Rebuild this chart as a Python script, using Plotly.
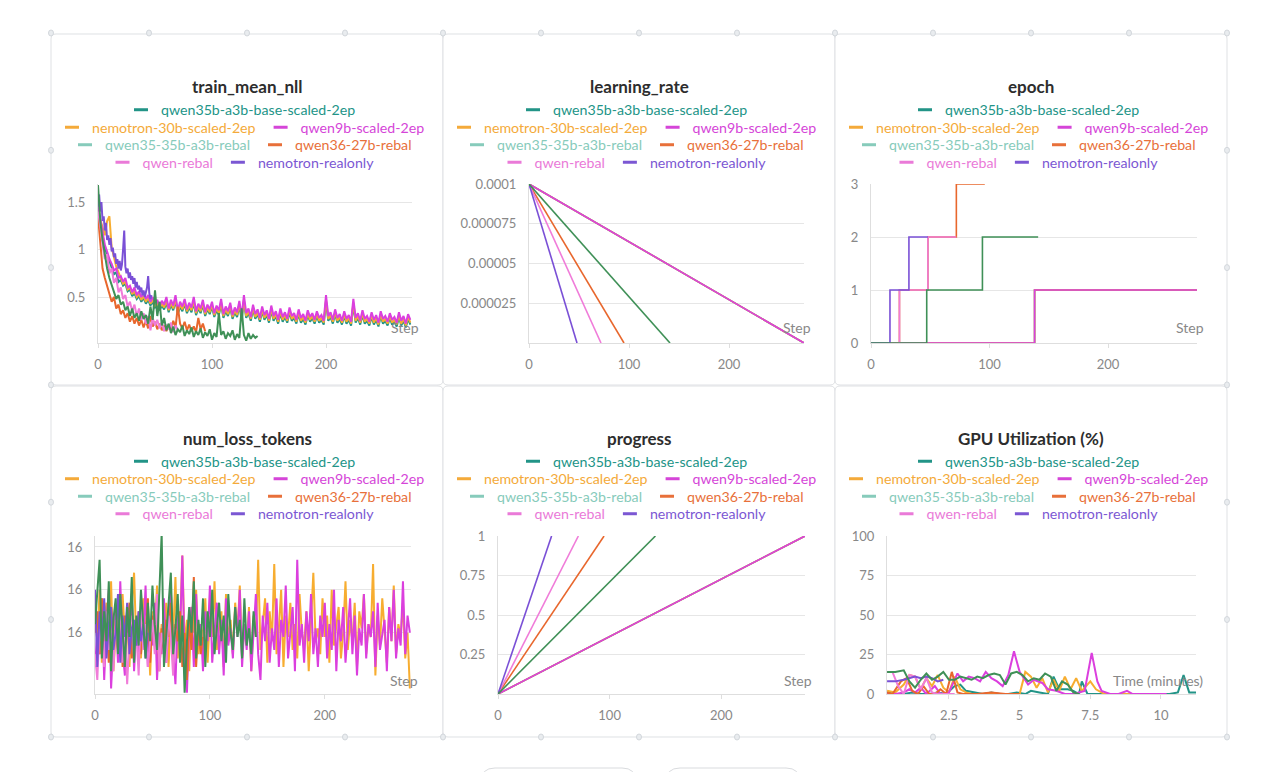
import plotly.graph_objects as go

W, H = 1280, 772
FONT = "Lato"

# ---------------------------------------------------------------- runs
RUNS = ["qwen35b-a3b-base-scaled-2ep", "nemotron-30b-scaled-2ep", "qwen9b-scaled-2ep",
        "qwen35-35b-a3b-rebal", "qwen36-27b-rebal", "qwen-rebal", "nemotron-realonly"]
LEGEND_COLORS = ["#229487", "#f4aa3a", "#d545d8", "#87cbbb", "#e8703a", "#ea7ad8", "#7b57d3"]
LINE_COLORS = ["#229487", "#f7ad30", "#db3fde", "#3f9057", "#e8672d", "#f07cd9", "#7a50d6"]
LEGEND_ROWS = [[0], [1, 2], [3, 4], [5, 6]]
DRAW_ORDER = [0, 1, 2, 4, 5, 6, 3]

# ---------------------------------------------------------------- train_mean_nll
NLL_QWEN35B = [1.38,1.28,1.15,1.02,0.95,0.88,0.80,0.74,0.76,0.66,0.68,
    0.62,0.64,0.56,0.58,0.51,0.54,0.48,0.51,0.45,0.49,
    0.43,0.47,0.41,0.45,0.39,0.42,0.36,0.41,0.37,0.44,
    0.34,0.42,0.36,0.46,0.32,0.40,0.35,0.43,0.33,0.39,
    0.34,0.44,0.31,0.38,0.33,0.42,0.30,0.37,0.32,0.40,
    0.29,0.36,0.31,0.42,0.28,0.35,0.30,0.39,0.27,0.34,
    0.29,0.41,0.26,0.45,0.28,0.33,0.25,0.37,0.27,0.32,
    0.24,0.35,0.26,0.31,0.23,0.36,0.25,0.30,0.22,0.33,
    0.24,0.29,0.23,0.34,0.25,0.28,0.22,0.32,0.23,0.27,
    0.21,0.31,0.24,0.28,0.22,0.30,0.23,0.26,0.21,0.45,
    0.25,0.29,0.22,0.32,0.23,0.27,0.21,0.30,0.22,0.26,
    0.20,0.42,0.23,0.28,0.21,0.31,0.22,0.25,0.20,0.29,
    0.21,0.26,0.19,0.30,0.22,0.25,0.20,0.28,0.21,0.24,
    0.19,0.29,0.20,0.25,0.18,0.27,0.21]
NLL_NEMOTRON30B = [1.40,1.32,1.25,1.15,1.30,1.35,1.02,0.92,0.82,0.76,0.70,
    0.64,0.66,0.58,0.60,0.53,0.56,0.50,0.53,0.47,0.51,
    0.45,0.49,0.43,0.47,0.41,0.44,0.38,0.43,0.39,0.46,
    0.36,0.44,0.38,0.48,0.34,0.42,0.37,0.45,0.35,0.41,
    0.36,0.46,0.33,0.40,0.35,0.44,0.32,0.39,0.34,0.42,
    0.31,0.38,0.33,0.44,0.30,0.37,0.32,0.41,0.29,0.36,
    0.31,0.43,0.28,0.47,0.30,0.35,0.27,0.39,0.29,0.34,
    0.26,0.37,0.28,0.33,0.25,0.38,0.27,0.32,0.24,0.35,
    0.26,0.31,0.25,0.36,0.27,0.30,0.24,0.34,0.25,0.29,
    0.23,0.33,0.26,0.30,0.24,0.32,0.25,0.28,0.23,0.47,
    0.27,0.31,0.24,0.34,0.25,0.29,0.23,0.32,0.24,0.28,
    0.22,0.44,0.25,0.30,0.23,0.33,0.24,0.27,0.22,0.31,
    0.23,0.28,0.21,0.32,0.24,0.27,0.22,0.30,0.23,0.26,
    0.21,0.31,0.22,0.27,0.20,0.29,0.23]
NLL_QWEN9B = [1.45,1.30,1.20,1.05,0.98,0.90,0.85,0.78,0.80,0.70,0.72,
    0.66,0.70,0.60,0.62,0.55,0.60,0.52,0.56,0.50,0.54,
    0.48,0.52,0.45,0.50,0.44,0.47,0.40,0.46,0.42,0.50,
    0.38,0.47,0.41,0.52,0.36,0.45,0.40,0.48,0.37,0.44,
    0.39,0.50,0.35,0.43,0.38,0.47,0.34,0.42,0.37,0.45,
    0.33,0.41,0.36,0.48,0.32,0.40,0.35,0.44,0.31,0.39,
    0.34,0.46,0.30,0.52,0.33,0.38,0.29,0.42,0.32,0.37,
    0.28,0.40,0.31,0.36,0.27,0.41,0.30,0.35,0.26,0.38,
    0.29,0.34,0.27,0.39,0.30,0.33,0.26,0.37,0.28,0.32,
    0.25,0.36,0.29,0.33,0.26,0.35,0.28,0.31,0.25,0.52,
    0.30,0.34,0.26,0.37,0.28,0.32,0.25,0.35,0.27,0.31,
    0.24,0.48,0.28,0.33,0.25,0.36,0.27,0.30,0.24,0.34,
    0.26,0.31,0.23,0.35,0.27,0.30,0.24,0.33,0.26,0.29,
    0.23,0.34,0.25,0.30,0.22,0.32,0.26]
NLL_QWEN35_REBAL = [1.68,1.30,1.10,0.95,0.80,0.70,0.62,0.55,0.48,0.52,0.42,
    0.45,0.36,0.40,0.30,0.38,0.28,0.33,0.25,0.35,0.27,
    0.31,0.22,0.40,0.26,0.57,0.30,0.45,0.20,0.28,0.15,
    0.22,0.12,0.19,0.10,0.16,0.13,0.20,0.09,0.15,0.11,
    0.18,0.08,0.14,0.10,0.17,0.07,0.13,0.09,0.16,0.05,
    0.12,0.08,0.33,0.10,0.14,0.06,0.12,0.09,0.15,0.05,
    0.11,0.07,0.38,0.10,0.04,0.12,0.06,0.10,0.07,0.09]
NLL_QWEN36 = [1.35,1.10,0.80,0.70,0.62,0.55,0.45,0.50,0.38,0.42,
    0.32,0.36,0.28,0.33,0.24,0.30,0.22,0.28,0.20,0.26,
    0.18,0.25,0.17,0.30,0.19,0.24,0.16,0.22,0.15,0.20,
    0.14,0.21,0.16,0.25,0.18,0.40,0.22,0.17,0.24,0.15,
    0.21,0.14,0.19,0.13,0.28,0.16,0.22,0.14]
NLL_QWEN_REBAL = [1.40,1.25,1.05,0.90,0.95,0.75,0.80,0.65,0.70,0.55,
    0.60,0.48,0.52,0.40,0.45,0.35,0.42,0.30,0.38,0.26,
    0.33,0.22,0.30,0.15,0.28,0.20,0.26,0.17,0.24,0.14,
    0.21,0.16,0.23,0.13,0.20,0.15]
NLL_NEMOTRON_REAL = [1.45,1.58,1.40,1.50,1.30,1.35,1.20,1.28,1.10,1.15,
    1.05,1.12,0.98,1.02,0.92,0.96,0.85,0.90,0.80,0.88,
    0.78,0.84,1.00,1.20,0.82,0.75,0.80,0.70,0.76,0.68,
    0.72,0.64,0.70,0.60,0.66,0.58,0.62,0.55,0.60,0.52,
    0.57,0.50,0.55,0.60,0.72,0.54,0.48,0.52]
NLL = [NLL_QWEN35B, NLL_NEMOTRON30B, NLL_QWEN9B, NLL_QWEN35_REBAL,
       NLL_QWEN36, NLL_QWEN_REBAL, NLL_NEMOTRON_REAL]
NLL_STRIDE = [2, 2, 2, 2, 2, 2, 1]

# ---------------------------------------------------------------- num_loss_tokens (thousands)
NLT_NEMOTRON30B = [16.15,16.08,16.20,16.03,16.12,16.17,16.06,16.22,16.01,16.10,16.14,
    16.05,16.19,16.09,16.13,16.02,16.16,16.24,16.07,16.11,16.04,
    16.18,16.08,16.13,16.00,16.15,16.10,16.21,16.05,16.12,16.06,
    16.17,16.02,16.14,16.09,16.23,16.04,16.11,16.28,16.07,16.13,
    16.01,16.16,16.10,16.20,16.05,16.12,16.08,16.18,16.03,16.14,
    16.09,16.22,16.06,16.11,16.15,16.02,16.19,16.08,16.13,16.05,
    16.17,16.10,16.21,16.04,16.12,16.07,16.16,16.01,16.14,16.09,
    16.27,16.06,16.12,16.18,16.03,16.15,16.08,16.26,16.05,16.11,
    16.20,16.02,16.14,16.09,16.17,16.06,16.12,16.04,16.19,16.10,
    16.07,16.15,16.01,16.13,16.24,16.08,16.11,16.05,16.18,16.09,
    16.14,16.03,16.20,16.07,16.12,16.16,16.04,16.10,16.22,16.06,
    16.13,16.08,16.17,16.02,16.15,16.11,16.19,16.05,16.12,16.09,
    16.26,16.00,16.14,16.07,16.18,16.10,16.03,16.16,16.08,16.21,
    16.05,16.12,16.09,16.17,16.04,16.10,15.97]
NLT_QWEN9B = [16.02,16.10,16.05,16.18,15.99,16.12,16.20,15.97,16.08,16.15,16.03,
    16.22,16.06,16.00,16.14,16.09,16.19,16.01,16.11,16.04,16.16,
    16.08,16.21,16.02,16.13,16.07,16.17,15.99,16.10,16.05,16.18,
    16.03,16.12,16.20,16.06,15.98,16.14,16.09,16.28,16.04,15.96,
    16.11,16.16,16.02,16.19,16.07,16.12,16.01,16.15,16.08,16.21,
    16.03,16.10,16.17,16.05,16.13,16.00,16.18,16.07,16.11,16.04,
    16.16,16.09,16.20,16.02,16.12,16.06,16.15,16.01,16.10,16.19,
    16.05,15.99,16.14,16.08,16.17,16.03,16.11,16.06,16.18,16.02,
    16.13,16.09,16.21,16.04,16.10,16.16,16.01,16.27,16.07,16.12,
    16.03,16.15,16.08,16.19,16.05,16.11,16.02,16.14,16.09,16.17,
    16.04,16.12,16.06,16.20,16.01,16.13,16.08,16.16,16.03,16.10,
    16.18,16.05,16.14,16.00,16.11,16.07,16.19,16.04,16.12,16.09,
    16.15,16.02,16.17,16.06,16.10,16.13,16.01,16.16,16.08,16.20,
    16.04,16.11,16.07,16.22,16.05,16.14,16.10]
NLT_QWEN35_REBAL = [16.12,16.20,16.27,16.04,16.15,16.08,16.22,16.01,16.13,16.18,16.05,
    16.19,16.10,16.02,16.16,16.09,16.23,16.03,16.14,16.07,16.20,
    16.11,16.04,16.17,16.08,16.21,16.12,16.06,16.18,16.33,16.02,
    16.09,16.15,16.24,16.05,16.11,16.19,16.03,16.14,15.96,16.08,
    16.16,16.10,16.22,16.04,16.13,16.07,16.18,16.02,16.15,16.09,
    16.20,16.05,16.12,16.17,16.08,16.14,16.03,16.19,16.10,16.06,
    16.16,16.09,16.13,16.04,16.18,16.07,16.11,16.05,16.15,16.09]
NLT_QWEN36 = [16.10,16.15,16.05,16.18,16.08,16.12,16.03,16.16,16.09,16.13,
    16.06,16.19,16.02,16.14,16.10,16.17,16.04,16.11,16.08,16.15,
    16.05,16.12,16.09,16.18,16.03,16.14,16.07,16.16,16.01,16.11,
    16.06,16.13,16.09,16.17,16.04,16.12,16.08,16.15,16.02,16.10,
    15.99,16.14,16.06,16.23,16.02,16.12,16.05,16.09]
NLT_QWEN_REBAL = [16.05,15.99,16.12,16.08,16.02,16.15,16.06,16.10,16.01,16.13,
    16.07,16.18,16.03,16.11,15.98,16.09,16.14,16.04,16.10,16.00,
    16.16,16.06,16.12,16.02,16.08,16.13,16.05,16.19,16.01,16.10,
    16.07,16.03,16.14,16.09,16.00,16.11]
NLT_NEMOTRON_REAL = [16.20,16.02,16.15,16.08,16.18,16.04,16.12,16.16,16.06,16.10,
    16.19,16.03,16.14,16.09,16.17,16.05,16.11,16.13,16.07,16.15,
    16.08,16.12,16.04,16.10]
NLT = [None, NLT_NEMOTRON30B, NLT_QWEN9B, NLT_QWEN35_REBAL,
       NLT_QWEN36, NLT_QWEN_REBAL, NLT_NEMOTRON_REAL]
NLT_TICKS = [16.1, 16.2, 16.3]
NLT_TICKTEXT = ["16", "16", "16"]

# ---------------------------------------------------------------- learning_rate / progress
LR_START = 0.0001
LR_FINAL = 0.0
RUN_END_STEP = [275, 275, 275, 141, 95, 72, 48]
PROGRESS_START = 0.0
PROGRESS_FINAL = 1.0

# ---------------------------------------------------------------- epoch (change points)
EPOCH_STEPS = [[0, 138, 275], [0, 138, 275], [0, 138, 275], [0, 47, 94, 141],
               [0, 24, 48, 72, 96], [0, 24, 48, 72], [0, 16, 32, 48]]
EPOCH_VALUES = [[0, 1, 1], [0, 1, 1], [0, 1, 1], [0, 1, 2, 2],
                [0, 1, 2, 3, 3], [0, 1, 2, 2], [0, 1, 2, 2]]

# ---------------------------------------------------------------- GPU utilization
GPU_MIN = [
    [0.31,0.6,0.9,1.2,1.5,1.8,2.1,2.4,2.7,2.9,3.1,3.4,3.7,4.0,4.3,4.6,4.9,5.2,5.4,5.7,
     6.0,6.2,6.4,6.7,6.9,7.1,7.2,7.4,7.7,8.0,8.5,9.0,9.5,10.0,10.3,10.6,10.8,11.0,11.24],
    [0.31,0.6,0.9,1.1,1.3,1.5,1.7,1.9,2.1,2.3,2.5,2.7,2.9,3.1,3.3,3.6,4.0,4.5,5.0,5.2,
     5.4,5.6,5.8,6.0,6.2,6.4,6.6,6.8,7.0,7.2,7.5,7.7,8.0,8.5,9.0,9.5,10.0],
    [0.31,0.6,0.9,1.1,1.3,1.5,1.7,2.0,2.2,2.5,2.8,3.0,3.2,3.4,3.6,3.8,4.0,4.2,4.4,4.6,
     4.8,5.0,5.3,5.5,5.8,6.0,6.3,6.6,6.9,7.1,7.3,7.55,7.75,7.9,8.2,8.5,8.8,9.0,9.5,10.0,10.2],
    [0.31,0.6,0.9,1.1,1.3,1.5,1.7,1.9,2.1,2.3,2.5,2.7,2.9,3.1,3.3,3.5,3.7,3.9,4.1,4.3,
     4.5,4.7,4.9,5.1,5.3,5.5,5.7,5.9,6.1,6.3,6.5,6.7,6.9,7.1],
    [0.31,0.5,0.8,1.0,1.2,1.4,1.6,1.8,2.0,2.2,2.4,2.6,2.8,3.0,3.5,4.0,4.5,5.0],
    [0.31,0.5,0.7,0.9,1.1,1.3,1.5,1.7,1.9,2.1,2.4,2.7],
    [0.31,0.6,0.9,1.1,1.3,1.5,1.7,1.9,2.1,2.3],
]
GPU_UTIL = [
    [1,0,0,1,0,0,1,0,5,6,2,1,0,1,0,0,1,0,2,1,0,11,3,3,2,0,8,0,0,0,0,0,0,0,0,1,12,1,1],
    [2,1,6,12,11,3,10,5,12,4,1,11,3,1,0,0,0,0,0,14,11,4,10,1,9,2,11,3,10,2,8,3,0,0,0,0,0],
    [0,0,1,3,1,4,0,5,0,1,13,8,11,10,8,14,10,8,5,12,27,14,6,9,7,3,2,0,0,1,2,26,8,2,0,0,2,0,0,0,0],
    [14,14,15,8,4,9,13,9,11,14,9,9,11,10,9,11,10,12,13,12,6,13,14,12,8,10,9,13,11,2,8,6,1,0],
    [1,0,8,10,2,0,5,0,0,3,0,14,1,0,0,1,0,0],
    [14,14,5,0,12,11,3,10,1,0,0,0],
    [8,8,9,10,11,10,11,10,8,9],
]

# ---------------------------------------------------------------- panel layout (pixels)
CARDS = [(51, 34, 443, 385), (443, 34, 835, 385), (835, 34, 1227, 385),
         (51, 386, 443, 737), (443, 386, 835, 737), (835, 386, 1227, 737)]
TITLES = ["train_mean_nll", "learning_rate", "epoch", "num_loss_tokens", "progress",
          "GPU Utilization (%)"]
PLOT_X = [(98, 411.5), (529, 804), (871, 1197), (95, 411), (498, 805), (887, 1196)]
PLOT_Y = [(184, 343)] * 3 + [(536, 694)] * 3
X_LABELS = ["Step"] * 5 + ["Time (minutes)"]


def fx(p):
    return p / W


def fy(p):
    return 1 - p / H


fig = go.Figure()
layout = dict(width=W, height=H,
              margin=dict(l=0, r=0, t=0, b=0, pad=0, autoexpand=False), autosize=False,
              paper_bgcolor="white", plot_bgcolor="white", showlegend=True,
              font=dict(family=FONT, color="#777"), shapes=[], annotations=[])

x_ranges = [[0, 275], [0, 275], [0, 275], [0, 275], [0, 275], [0.307, 11.24]]
y_ranges = [[0.016, 1.69], [0, 0.0001], [0, 3], [15.957, 16.3256], [0, 1], [0, 100]]
x_ticks = [[0, 100, 200]] * 5 + [[2.5, 5, 7.5, 10]]
x_ticktext = [["0", "100", "200"]] * 5 + [["2.5", "5", "7.5", "10"]]
y_ticks = [[0.5, 1, 1.5], [0.000025, 0.00005, 0.000075, 0.0001], [0, 1, 2, 3],
           NLT_TICKS, [0.25, 0.5, 0.75, 1], [0, 25, 50, 75, 100]]
y_ticktext = [["0.5", "1", "1.5"], ["0.000025", "0.00005", "0.000075", "0.0001"],
              ["0", "1", "2", "3"], NLT_TICKTEXT, ["0.25", "0.5", "0.75", "1"],
              ["0", "25", "50", "75", "100"]]

tickfont = dict(family=FONT, size=13, color="#888888")
for k in range(6):
    sx = "" if k == 0 else str(k + 1)
    layout["xaxis" + sx] = dict(
        domain=[fx(PLOT_X[k][0]), fx(PLOT_X[k][1])], range=x_ranges[k],
        anchor="y" + sx, showgrid=False, zeroline=False, showline=True,
        linecolor="#dedede", linewidth=1, ticks="outside", ticklen=4,
        tickcolor="#dedede", tickvals=x_ticks[k], ticktext=x_ticktext[k],
        tickfont=tickfont, ticklabelstandoff=5, fixedrange=True, automargin=False)
    layout["yaxis" + sx] = dict(
        domain=[fy(PLOT_Y[k][1]), fy(PLOT_Y[k][0])], range=y_ranges[k],
        anchor="x" + sx, showgrid=True, gridcolor="#e6e6e6", gridwidth=1,
        zeroline=False, showline=True, linecolor="#dedede", linewidth=1,
        ticks="", tickvals=y_ticks[k], ticktext=y_ticktext[k],
        tickfont=tickfont, ticklabelstandoff=9, fixedrange=True, automargin=False)


def add(k, x, y, run, width=2, shape="linear"):
    sx = "" if k == 0 else str(k + 1)
    fig.add_trace(go.Scatter(x=x, y=y, mode="lines", xaxis="x" + sx, yaxis="y" + sx,
                             line=dict(color=LINE_COLORS[run], width=width, shape=shape),
                             name=RUNS[run], showlegend=False, hoverinfo="skip"))


for r in DRAW_ORDER:
    vals = NLL[r]
    add(0, [i * NLL_STRIDE[r] for i in range(len(vals))], vals, r, 2)
    add(1, [0, RUN_END_STEP[r]], [LR_START, LR_FINAL], r, 1.6)
    add(2, EPOCH_STEPS[r], EPOCH_VALUES[r], r, 1.6, "hv")
    if NLT[r] is not None:
        add(3, [i * 2 for i in range(len(NLT[r]))], NLT[r], r, 2)
    add(4, [0, RUN_END_STEP[r]], [PROGRESS_START, PROGRESS_FINAL], r, 1.6)
    add(5, GPU_MIN[r], GPU_UTIL[r], r, 2)

# ---------------------------------------------------------------- legends (one per row)
ROW_Y_TOP = [110, 127.5, 145, 162.5]
ROW_Y_BOT = [461.5, 479, 496.5, 514]
for k in range(6):
    sx = "" if k == 0 else str(k + 1)
    cx = (CARDS[k][0] + CARDS[k][2]) / 2
    rows_y = ROW_Y_TOP if k < 3 else ROW_Y_BOT
    for ri, row in enumerate(LEGEND_ROWS):
        idx = k * 4 + ri + 1
        lid = "legend" if idx == 1 else "legend%d" % idx
        layout[lid] = dict(orientation="h", x=fx(cx - 6), xanchor="center",
                           y=fy(rows_y[ri]), yanchor="middle",
                           font=dict(family=FONT, size=14.2),
                           bgcolor="rgba(0,0,0,0)", borderwidth=0,
                           itemclick=False, itemdoubleclick=False, itemwidth=30)
        for run in row:
            fig.add_trace(go.Scatter(
                x=[None], y=[None], mode="markers", xaxis="x" + sx, yaxis="y" + sx,
                marker=dict(symbol="line-ew", size=10,
                            line=dict(width=3, color=LEGEND_COLORS[run])),
                name='<span style="color:%s">%s</span>' % (LEGEND_COLORS[run], RUNS[run]),
                legend=lid, showlegend=True, hoverinfo="skip"))

# ---------------------------------------------------------------- titles & axis labels
for k in range(6):
    cx = (CARDS[k][0] + CARDS[k][2]) / 2
    ty = 87 if k < 3 else 438
    layout["annotations"].append(dict(
        x=fx(cx), y=fy(ty), xref="paper", yref="paper", xanchor="center",
        yanchor="middle", showarrow=False, text="<b>%s</b>" % TITLES[k],
        font=dict(family=FONT, size=17, color="#2d2d2d")))
    ly = 328 if k < 3 else 680
    layout["annotations"].append(dict(
        x=fx(PLOT_X[k][1] + 9), y=fy(ly), xref="paper", yref="paper", xanchor="right",
        yanchor="middle", showarrow=False, text=X_LABELS[k],
        font=dict(family=FONT, size=14, color="#888888")))


# ---------------------------------------------------------------- card frames & handles
def rounded(x0, y0, x1, y1, r):
    X0, X1 = fx(x0), fx(x1)
    Y0, Y1 = fy(y0), fy(y1)
    rx, ry = r / W, r / H
    return ("M%f,%f L%f,%f Q%f,%f %f,%f L%f,%f Q%f,%f %f,%f L%f,%f Q%f,%f %f,%f "
            "L%f,%f Q%f,%f %f,%f Z" % (
                X0 + rx, Y0, X1 - rx, Y0, X1, Y0, X1, Y0 - ry, X1, Y1 + ry, X1, Y1,
                X1 - rx, Y1, X0 + rx, Y1, X0, Y1, X0, Y1 + ry, X0, Y0 - ry, X0, Y0,
                X0 + rx, Y0))


for (x0, y0, x1, y1) in CARDS:
    layout["shapes"].append(dict(type="path", path=rounded(x0, y0, x1, y1, 5),
                                 xref="paper", yref="paper", layer="below",
                                 line=dict(color="#dfe1e4", width=1),
                                 fillcolor="white"))

handles = []
for i in range(13):
    hx = 51 + i * 98
    handles += [(hx, 33), (hx, 737)]
for j in range(1, 6):
    hy = 33 + j * 117.3
    handles += [(51, hy), (1227, hy)]
for (hx, hy) in handles:
    layout["shapes"].append(dict(type="circle", xref="paper", yref="paper",
                                 x0=fx(hx - 2.5), x1=fx(hx + 2.5),
                                 y0=fy(hy + 3), y1=fy(hy - 3),
                                 line=dict(color="#d3d7dc", width=1),
                                 fillcolor="#e9ecef", layer="above"))

for (bx0, bx1) in [(481, 636), (666, 800)]:
    layout["shapes"].append(dict(type="path", path=rounded(bx0, 768, bx1, 800, 14),
                                 xref="paper", yref="paper", layer="below",
                                 line=dict(color="#d9dbde", width=1),
                                 fillcolor="white"))

fig.update_layout(**layout)
fig.write_html("out.html", config={"displayModeBar": False})
